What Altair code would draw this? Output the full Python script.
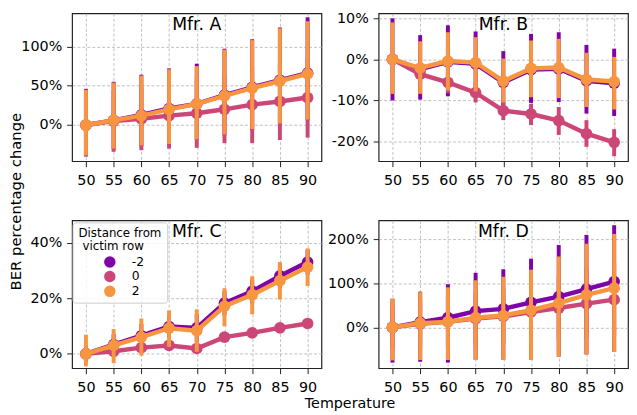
import altair as alt
import pandas as pd

temps = [50, 55, 60, 65, 70, 75, 80, 85, 90]
dists = ['-2', '0', '2']
colors = ['#7e03a8', '#cc4778', '#f89540']
mfrs = ['A', 'B', 'C', 'D']
panel_titles = ['Mfr. A', 'Mfr. B', 'Mfr. C', 'Mfr. D']
legend_title = ['Distance from', 'victim row']

# Mfr. A  (mean, lower, upper) per distance
a_mean_m2 = [0, 6, 13, 21, 27, 38, 48, 57, 66]
a_lo_m2 = [-40, -31, -27, -25, -19, -13, -6, 1, 6]
a_hi_m2 = [46, 55, 64, 72, 78, 97, 109, 124, 137]
a_mean_0 = [0, 5, 8, 12, 15, 20, 26, 30, 35]
a_lo_0 = [-38, -34, -32, -30, -29, -23, -23, -19, -16]
a_hi_0 = [38, 44, 48, 54, 59, 63, 75, 79, 86]
a_mean_2 = [0, 6, 12, 20, 27, 37, 47, 56, 65]
a_lo_2 = [-39, -30, -26, -24, -18, -12, -5, 2, 7]
a_hi_2 = [45, 54, 63, 71, 75, 96, 108, 123, 132]

# Mfr. B
b_mean_m2 = [0, -2.4, -0.6, -1.1, -5.6, -2.5, -2.3, -5.2, -5.8]
b_lo_m2 = [-10, -9.8, -9.0, -9.2, -12, -10.6, -10.4, -13.2, -13.8]
b_hi_m2 = [10, 5.9, 8.3, 6.8, 2.0, 6.2, 6.6, 3.5, 2.6]
b_mean_0 = [0, -3.6, -5.6, -8.1, -12.5, -13.3, -14.9, -18.1, -20.2]
b_lo_0 = [-1.5, -5.6, -8.2, -10.5, -14.8, -16.0, -18.4, -21.3, -23.6]
b_hi_0 = [1.5, -1.6, -3.0, -5.7, -10.2, -10.8, -11.6, -14.8, -17.0]
b_mean_2 = [0, -2.1, -0.4, -0.8, -5.3, -2.2, -2.0, -4.9, -5.4]
b_lo_2 = [-8.4, -8.4, -7.6, -7.8, -10.5, -9.2, -9.4, -11.6, -12.2]
b_hi_2 = [9.0, 4.4, 6.6, 5.4, 0.2, 4.6, 5.0, 1.6, 0.6]

# Mfr. C
c_mean_m2 = [0, 3.3, 6.5, 9.8, 9.3, 18.2, 22.5, 28, 33]
c_lo_m2 = [-3, -0.5, 2.3, 5.8, 4.3, 13.8, 18.2, 23.5, 28.5]
c_hi_m2 = [3, 7.1, 10.7, 13.8, 14.3, 22.6, 26.8, 32.5, 37.5]
c_mean_0 = [0, 0.9, 2.2, 3.0, 1.9, 6.0, 7.5, 9.3, 10.9]
c_lo_0 = [-0.6, 0.3, 1.6, 2.4, 1.3, 5.4, 6.9, 8.7, 10.3]
c_hi_0 = [0.6, 1.5, 2.8, 3.6, 2.5, 6.6, 8.1, 9.9, 11.5]
c_mean_2 = [0, 3.0, 6.0, 9.2, 8.3, 17.1, 21.2, 26.3, 31.2]
c_lo_2 = [-4.5, -3.4, -0.7, 2.5, 0.7, 9.9, 14.2, 19.5, 24.4]
c_hi_2 = [6.8, 8.9, 12.7, 15.6, 16, 23.6, 27.9, 33, 37.9]

# Mfr. D
d_mean_m2 = [0, 12, 22, 37, 42, 57, 70, 87, 104]
d_lo_m2 = [-80, -78, -80, -73, -73, -73, -66, -61, -55]
d_hi_m2 = [65, 81, 98, 124, 132, 156, 187, 210, 232]
d_mean_0 = [0, 8, 13, 20, 25, 35, 44, 54, 63]
d_lo_0 = [-50, -45, -45, -40, -38, -35, -30, -25, -20]
d_hi_0 = [50, 61, 71, 80, 88, 105, 118, 133, 146]
d_mean_2 = [0, 9.6, 12.5, 22, 27, 39, 55, 74, 89]
d_lo_2 = [-75, -74, -74, -74, -74, -74, -67, -62, -56]
d_hi_2 = [65, 80, 91, 107, 115, 131, 161, 190, 212]

series = {
    'A': [(a_mean_m2, a_lo_m2, a_hi_m2), (a_mean_0, a_lo_0, a_hi_0), (a_mean_2, a_lo_2, a_hi_2)],
    'B': [(b_mean_m2, b_lo_m2, b_hi_m2), (b_mean_0, b_lo_0, b_hi_0), (b_mean_2, b_lo_2, b_hi_2)],
    'C': [(c_mean_m2, c_lo_m2, c_hi_m2), (c_mean_0, c_lo_0, c_hi_0), (c_mean_2, c_lo_2, c_hi_2)],
    'D': [(d_mean_m2, d_lo_m2, d_hi_m2), (d_mean_0, d_lo_0, d_hi_0), (d_mean_2, d_lo_2, d_hi_2)],
}

y_domains = {'A': [-46, 142], 'B': [-24.8, 11.2], 'C': [-5.2, 48], 'D': [-92.7, 243]}
y_ticks = {'A': [0, 50, 100], 'B': [-20, -10, 0, 10], 'C': [0, 20, 40], 'D': [0, 100, 200]}

rows = []
for m in mfrs:
    for d, (mean, lo, hi) in zip(dists, series[m]):
        for t, mv, l, h in zip(temps, mean, lo, hi):
            rows.append({'mfr': m, 'dist': d, 'temp': t, 'mean': mv, 'lo': l, 'hi': h})
df = pd.DataFrame(rows)

W, H = 253, 150
cscale = alt.Scale(domain=dists, range=colors)


def legend_layers():
    one = pd.DataFrame({'k': [0]})
    out = [alt.Chart(one).mark_rect(fill='white', fillOpacity=0.82, stroke='#cccccc',
                                    strokeWidth=1, cornerRadius=3).encode(
        x=alt.value(1), x2=alt.value(97), y=alt.value(2.5), y2=alt.value(84))]
    out.append(alt.Chart(one).mark_text(fontSize=12, align='left', baseline='alphabetic',
                                        color='black').encode(
        text=alt.value(legend_title[0]), x=alt.value(6.5), y=alt.value(17)))
    out.append(alt.Chart(one).mark_text(fontSize=12, align='left', baseline='alphabetic',
                                        color='black').encode(
        text=alt.value(legend_title[1]), x=alt.value(10.5), y=alt.value(30.3)))
    ys = [42.3, 57, 72]
    for d, yy in zip(dists, ys):
        ld = pd.DataFrame({'dist': [d]})
        out.append(alt.Chart(ld).mark_circle(size=135, opacity=1).encode(
            x=alt.value(38.3), y=alt.value(yy),
            color=alt.Color('dist:N', scale=cscale, legend=None)))
        out.append(alt.Chart(ld).mark_text(fontSize=12.5, align='left', baseline='middle',
                                           color='black').encode(
            text='dist:N', x=alt.value(60.5), y=alt.value(yy)))
    return out


def panel(i, m):
    base = alt.Chart(df).transform_filter(alt.datum.mfr == m)
    xenc = alt.X('temp:Q', scale=alt.Scale(domain=[47.5, 92.5], nice=False, zero=False),
                 axis=alt.Axis(values=temps, title=None, format='d'))
    yscale = alt.Scale(domain=y_domains[m], nice=False, zero=False)
    yaxis = alt.Axis(values=y_ticks[m], labelExpr="datum.value + '%'", title=None)
    layers = []
    for d, c in zip(dists, colors):
        b = base.transform_filter(alt.datum.dist == d)
        layers.append(b.mark_rule(strokeWidth=4, color=c).encode(
            x=xenc, y=alt.Y('lo:Q', scale=yscale, axis=yaxis), y2='hi:Q'))
        layers.append(b.mark_line(strokeWidth=4.5, color=c).encode(
            x=xenc, y=alt.Y('mean:Q', scale=yscale, axis=yaxis)))
        layers.append(b.mark_circle(size=140, opacity=1).encode(
            x=xenc, y=alt.Y('mean:Q', scale=yscale, axis=yaxis),
            color=alt.Color('dist:N', scale=cscale, legend=None)))
    tdf = pd.DataFrame({'t': [panel_titles[i]]})
    layers.append(alt.Chart(tdf).mark_text(fontSize=17.5, align='center', baseline='alphabetic',
                                           color='black').encode(
        text='t:N', x=alt.value(W / 2), y=alt.value(17)))
    if m == 'A':
        layers.append(alt.Chart(pd.DataFrame({'t': ['BER percentage change']})).mark_text(
            fontSize=15, angle=270, align='center', baseline='middle', color='black').encode(
            text='t:N', x=alt.value(-56.5), y=alt.value(191)))
    if m == 'C':
        layers += legend_layers()
        layers.append(alt.Chart(pd.DataFrame({'t': ['Temperature']})).mark_text(
            fontSize=14.5, align='center', baseline='alphabetic', color='black').encode(
            text='t:N', x=alt.value(282), y=alt.value(190)))
    return alt.layer(*layers).properties(width=W, height=H)


chart = alt.concat(*[panel(i, m) for i, m in enumerate(mfrs)], columns=2,
                   spacing={'row': 60, 'column': 58}, bounds='flush').properties(
    padding={'top': -1.5, 'left': 0, 'right': 0, 'bottom': 0}
).configure(font='DejaVu Sans').configure_view(
    stroke='#222222', strokeWidth=1.2
).configure_axis(
    domain=False, grid=True, gridColor='#b0b0b0', gridDash=[3, 2], gridWidth=0.8,
    tickColor='#222222', tickSize=5.5, tickWidth=1, labelFontSize=14.5, labelColor='black',
    labelFont='DejaVu Sans'
).configure_axisX(labelPadding=7).configure_axisY(labelPadding=5)

chart.save("out.html", embed_options={"renderer": "svg", "actions": False})
